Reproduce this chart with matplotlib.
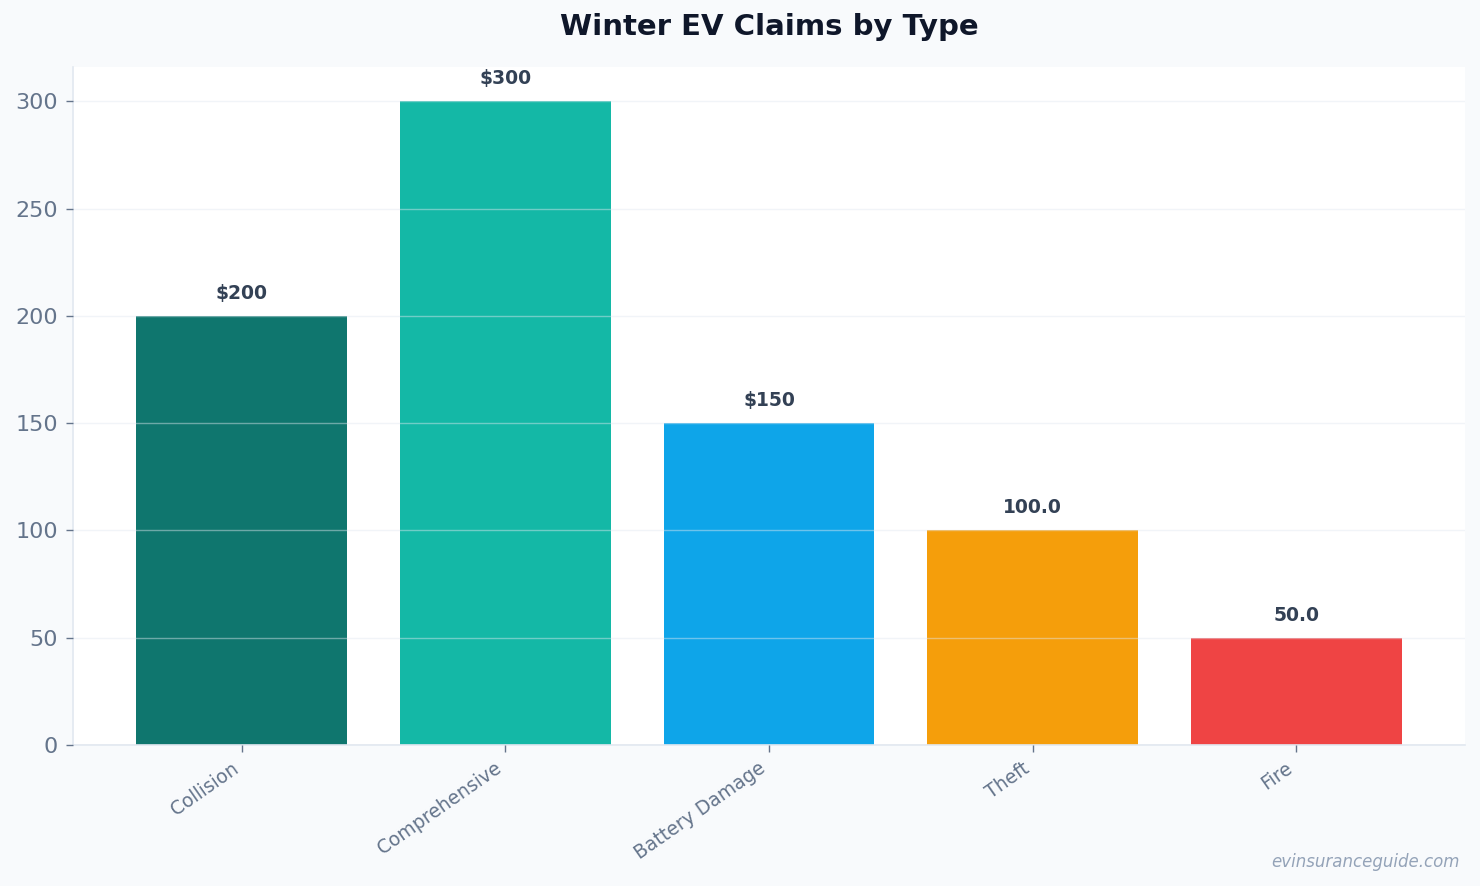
import matplotlib
matplotlib.use("Agg")
import matplotlib.pyplot as plt

categories = ["Collision", "Comprehensive", "Battery Damage", "Theft", "Fire"]
values = [200, 300, 150, 100.0, 50.0]
value_labels = ["$200", "$300", "$150", "100.0", "50.0"]
colors = ["#0f766e", "#14b8a6", "#0ea5e9", "#f59e0b", "#ef4444"]
yticks = [0, 50, 100, 150, 200, 250, 300]

plt.rcParams['font.family'] = ['DejaVu Sans']

fig = plt.figure(figsize=(14.8, 8.86), dpi=100, facecolor="#f8fafc")
ax = fig.add_axes([73/1480, 1-745/886, (1465-73)/1480, (745-67)/886])
ax.set_facecolor("white")

x = list(range(len(categories)))
bars = ax.bar(x, values, width=0.8, color=colors, zorder=2)
ax.set_ylim(0, 316)
ax.set_yticks(yticks)
ax.set_xticks(x)
ax.set_xticklabels(categories, rotation=35, ha="right",
                   fontsize=13.5, color="#64748b")
ax.tick_params(axis="y", labelsize=16, labelcolor="#64748b", color="#64748b",
               length=5, width=1, pad=6)
ax.tick_params(axis="x", color="#64748b", length=5, width=1, pad=5)

ax.grid(axis="y", color="#e2e8f0", alpha=0.45, linewidth=1, zorder=3)
ax.set_axisbelow(False)

for s in ["top", "right"]:
    ax.spines[s].set_visible(False)
for s in ["left", "bottom"]:
    ax.spines[s].set_color("#e2e8f0")
    ax.spines[s].set_linewidth(1.2)

for xi, v, lab in zip(x, values, value_labels):
    ax.annotate(lab, (xi, v), xytext=(0, 9.5), textcoords="offset points",
                ha="center", va="bottom", fontsize=13.5, fontweight="bold",
                color="#334155", zorder=4)

fig.suptitle("Winter EV Claims by Type", x=(73+1465)/2/1480, y=1-27/886, va="center",
             fontsize=21, fontweight="bold", color="#0f172a")

fig.text(1460/1480, 1-862/886, "evinsuranceguide.com", ha="right", va="center",
         fontsize=12, style="italic", color="#94a3b8")

fig.savefig("out.png", dpi=100, facecolor=fig.get_facecolor())
